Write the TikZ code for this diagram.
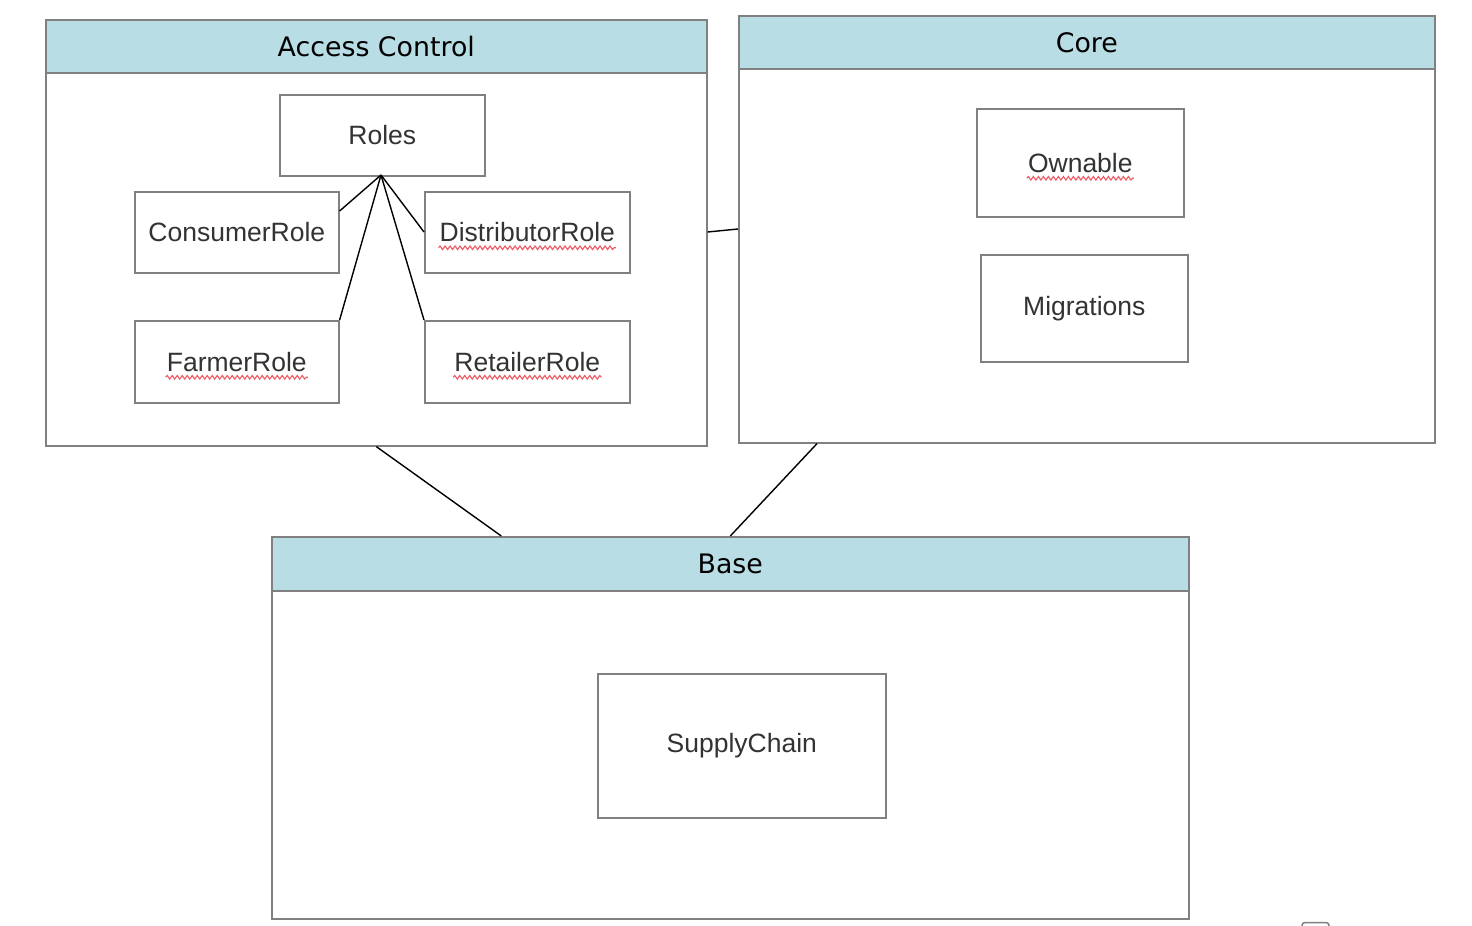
\documentclass[tikz,border=0pt]{standalone}
\usepackage{fontspec}
\setmainfont{Liberation Sans}
\newfontfamily\titlefont{DejaVu Sans}
\usetikzlibrary{decorations.pathmorphing}
\definecolor{headblue}{RGB}{185,221,229}
\definecolor{edgegray}{RGB}{128,128,128}
\definecolor{txtgray}{RGB}{51,51,51}
\definecolor{wavered}{RGB}{240,90,100}
\tikzset{
  container/.style={draw=edgegray, line width=1.6pt, fill=white, inner sep=0pt, anchor=north west},
  header/.style={draw=edgegray, line width=1.6pt, fill=headblue, inner sep=0pt, anchor=north west,
    font=\titlefont\fontsize{26.8}{32}\selectfont, text=black},
  classbox/.style={draw=edgegray, line width=1.6pt, fill=white, inner sep=0pt, anchor=north west},
  classtext/.style={inner sep=0pt, text=txtgray, font=\fontsize{26.5}{32}\selectfont},
  link/.style={draw=black, line width=1.4pt},
  squiggle/.style={draw=wavered, line width=1.1pt, decorate,
    decoration={snake, segment length=5pt, amplitude=1.8pt}}
}
\begin{document}
\begin{tikzpicture}[x=1pt,y=-1pt]
\useasboundingbox[fill=white] (0,0) rectangle (1472,926);

% containers
\node[container, minimum width=661pt, minimum height=426pt] (ac) at (45,19) {};
\node[header, minimum width=661pt, minimum height=53pt] (achead) at (45,19) {Access Control};
\node[container, minimum width=696pt, minimum height=427pt] (core) at (738,15) {};
\node[header, minimum width=696pt, minimum height=53pt] (corehead) at (738,15) {Core};
\node[container, minimum width=917pt, minimum height=382pt] (base) at (271,536) {};
\node[header, minimum width=917pt, minimum height=54pt] (basehead) at (271,536) {Base};

% class boxes
\node[classbox, minimum width=205pt, minimum height=81pt] (roles) at (279,94) {};
\node[classtext] (rolesT) at (roles.center) {Roles};
\node[classbox, minimum width=204pt, minimum height=81pt] (consumer) at (134,191) {};
\node[classtext] (consumerT) at (consumer.center) {ConsumerRole};
\node[classbox, minimum width=205pt, minimum height=81pt] (distributor) at (424,191) {};
\node[classtext] (distributorT) at (distributor.center) {DistributorRole};
\node[classbox, minimum width=204pt, minimum height=82pt] (farmer) at (134,320) {};
\node[classtext] (farmerT) at (farmer.center) {FarmerRole};
\node[classbox, minimum width=205pt, minimum height=82pt] (retailer) at (424,320) {};
\node[classtext] (retailerT) at (retailer.center) {RetailerRole};
\node[classbox, minimum width=207pt, minimum height=108pt] (ownable) at (976,108) {};
\node[classtext] (ownableT) at (ownable.center) {Ownable};
\node[classbox, minimum width=207pt, minimum height=107pt] (migrations) at (980,254) {};
\node[classtext] (migrationsT) at (migrations.center) {Migrations};
\node[classbox, minimum width=288pt, minimum height=144pt] (supply) at (597,673) {};
\node[classtext] (supplyT) at (supply.center) {SupplyChain};

% connectors
\coordinate (rolesB) at (381,175);
\draw[link] (rolesB) -- ([yshift=-20pt]consumer.north east);
\draw[link] (rolesB) -- ([yshift=-41pt]distributor.north west);
\draw[link] (rolesB) -- (farmer.north east);
\draw[link] (rolesB) -- (retailer.north west);
\draw[link] ([yshift=-213pt]ac.north east) -- ([yshift=-214pt]core.north west);
\draw[link] (ac.south) -- ([xshift=-229pt]base.north);
\draw[link] ([xshift=79pt]core.south west) -- (base.north);

% spell-check squiggles
\path[squiggle] ([xshift=-1pt,yshift=-6pt]distributorT.base west) -- ([xshift=1pt,yshift=-6pt]distributorT.base east);
\path[squiggle] ([xshift=-1pt,yshift=-6pt]farmerT.base west) -- ([xshift=1pt,yshift=-6pt]farmerT.base east);
\path[squiggle] ([xshift=-1pt,yshift=-6pt]retailerT.base west) -- ([xshift=1pt,yshift=-6pt]retailerT.base east);
\path[squiggle] ([xshift=-1pt,yshift=-6pt]ownableT.base west) -- ([xshift=1pt,yshift=-6pt]ownableT.base east);

% small clipped artefact at bottom right
\draw[edgegray, line width=1.5pt, rounded corners=3pt] (1302,932) -- (1302,922.5) -- (1329,922.5) -- (1329,932);
\end{tikzpicture}
\end{document}
